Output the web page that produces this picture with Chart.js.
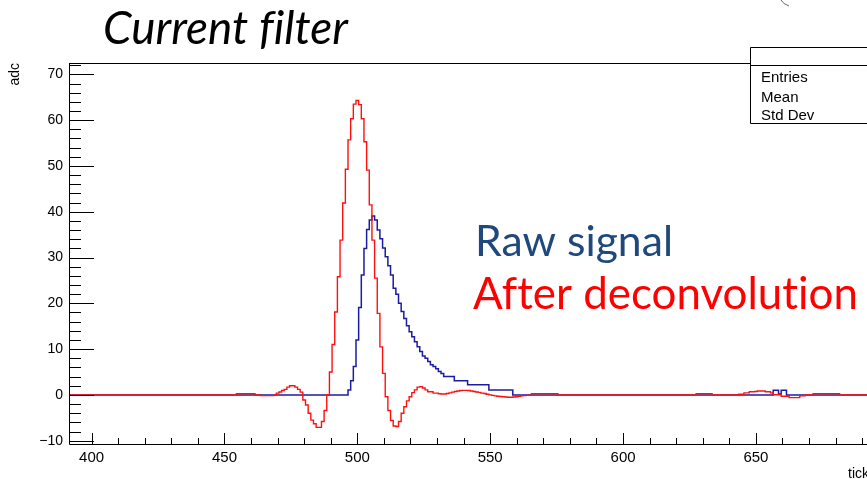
<!DOCTYPE html>
<html>
<head>
<meta charset="utf-8">
<script src="https://cdn.jsdelivr.net/npm/chart.js@4.4.1/dist/chart.umd.min.js"></script>
<style>
  html, body { margin: 0; padding: 0; background: #ffffff; overflow: hidden; }
  #wrap { width: 867px; height: 479px; position: relative; }
  canvas { display: block; }
</style>
</head>
<body>
<div id="wrap"><canvas id="c" width="867" height="479"></canvas></div>
<script>
// ---------------- data ----------------
const titleText = "Current filter";
const rawLabel = "Raw signal";
const deconvLabel = "After deconvolution";
const xAxisTitle = "tick";
const yAxisTitle = "adc";
const statsRows = ["Entries", "Mean", "Std Dev"];

// x tick labels / y tick labels
const xTickValues = [400, 450, 500, 550, 600, 650];
const yTickValues = [-10, 0, 10, 20, 30, 40, 50, 60, 70];

// Raw signal (blue): bin centres and adc values
const rawTicks = [391.5, 496,
  497, 498, 499, 500, 501, 502, 503, 504, 505, 506,
  507, 508, 509, 510, 511, 512, 513, 514, 515, 516,
  517, 518, 519, 520, 521, 522, 523, 524, 525, 526,
  527, 528, 529, 530, 531, 532, 533, 534, 535, 536,
  537, 538, 539, 540, 541,
  542, 543, 544, 545, 546, 547, 548, 549,
  550, 551, 552, 553, 554, 555, 556, 557, 558,
  559,
  656, 657, 658, 659, 660, 661, 662, 692];
const rawAdc = [0, 0,
  1.1, 3.1, 6.2, 12.0, 19.1, 26.2, 32.0, 36.1, 38.2, 39.1,
  38.2, 36.0, 34.1, 32.1, 30.2, 28.2, 26.2, 23.3, 22.0, 20.0,
  18.2, 16.7, 15.1, 13.8, 12.7, 11.6, 10.5, 9.5, 8.5, 8.0,
  7.3, 6.6, 6.2, 5.7, 5.1, 4.7, 4.0, 4.0, 4.0, 4.0,
  3.1, 3.1, 3.1, 3.1, 3.1,
  2.2, 2.2, 2.2, 2.2, 2.2, 2.2, 2.2, 2.2,
  1.1, 1.1, 1.1, 1.1, 1.1, 1.1, 1.1, 1.1, 1.1,
  0,
  0, 1.0, 1.0, 0.2, 1.0, 1.0, 0, 0];

// After deconvolution (red): bin centres and adc values
const deconvTicks = [391.5, 454,
  455, 456, 457, 458, 459, 460, 461, 462, 463,
  464, 465, 466, 467, 468, 469,
  470, 471, 472, 473, 474, 475, 476, 477, 478, 479,
  480, 481, 482, 483, 484, 485, 486, 487, 488, 489,
  490, 491, 492, 493, 494, 495, 496, 497, 498, 499,
  500, 501, 502, 503, 504, 505, 506, 507, 508, 509,
  510, 511, 512, 513, 514, 515, 516, 517, 518, 519,
  520, 521, 522, 523, 524, 525, 526, 527, 528, 529,
  530, 531, 532, 533, 534, 535, 536, 537, 538, 539,
  540, 541, 542, 543, 544, 545, 546, 547, 548, 549,
  550, 551, 552, 553, 554, 555, 556, 557, 558, 559,
  560, 561, 562, 563, 564, 565,
  566, 567, 568, 569, 570, 571, 572, 573, 574, 575, 576,
  627, 628, 629, 630, 631, 632, 633, 634,
  643, 644, 645, 646, 647, 648, 649, 650, 651, 652, 653,
  654, 655, 656, 657, 658, 659, 660, 661, 662, 663,
  664, 665, 666, 667, 668, 669,
  671, 672, 673, 674, 675, 676, 677, 678, 679, 680, 681, 682, 692];
const deconvAdc = [0, 0,
  0.25, 0.25, 0.25, 0.25, 0.25, 0.25, 0.25, 0, 0,
  -0.15, -0.15, -0.15, -0.15, -0.15, 0,
  0.4, 0.65, 0.95, 1.2, 1.7, 2.0, 2.0, 1.7, 1.2, 0.6,
  -1.1, -2.2, -4.0, -5.5, -6.3, -7.1, -7.1, -5.8, -3.4, 0.0,
  5.0, 11.0, 18.1, 25.8, 33.8, 41.9, 49.3, 55.7, 60.3, 63.5,
  64.3, 63.4, 60.3, 55.3, 49.1, 41.5, 33.8, 25.5, 17.8, 10.5,
  4.7, -0.4, -3.4, -5.6, -6.8, -6.9, -5.8, -4.0, -2.6, -1.3,
  -0.4, 0.5, 1.1, 1.7, 1.8, 1.5, 1.1, 0.7, 0.7, 0.4,
  0.4, 0.25, 0.2, 0.2, 0.3, 0.45, 0.6, 0.75, 0.85, 0.95,
  1.0, 1.0, 0.95, 0.85, 0.75, 0.65, 0.55, 0.4, 0.3, 0.15,
  0.0, -0.1, -0.2, -0.3, -0.35, -0.4, -0.45, -0.5, -0.5, -0.45,
  -0.4, -0.3, -0.2, -0.15, -0.1, -0.05,
  0.25, 0.25, 0.25, 0.25, 0.25, 0.25, 0.25, 0.25, 0.25, 0.25, 0,
  0, 0.25, 0.25, 0.25, 0.25, 0.25, 0.25, 0,
  0, 0.15, 0.15, 0.45, 0.45, 0.7, 0.7, 0.75, 0.85, 0.85, 0.85,
  0.7, 0.7, 0.45, 0.05, 0.05, 0.05, -0.3, -0.3, -0.3, -0.6,
  -0.6, -0.6, -0.6, -0.2, -0.2, 0,
  0, 0.25, 0.25, 0.25, 0.25, 0.25, 0.25, 0.25, 0.25, 0.25, 0.25, 0, 0];

// axis ranges
const xMin = 391.5, xMax = 691.8;
const yMin = -10.72, yMax = 72.27;

// ---------------- chart ----------------
const toPoints = (xs, ys) => xs.map((x, i) => ({ x: x, y: ys[i] }));

function fitFontSize(ctx, text, style, family, targetW) {
  ctx.font = style + " 100px " + family;
  const w = ctx.measureText(text).width;
  return 100 * targetW / w;
}

const rootFrame = {
  id: 'rootFrame',
  afterDraw(chart) {
    const ctx = chart.ctx;
    const { left, right, top, bottom } = chart.chartArea;
    const xs = chart.scales.x, ys = chart.scales.y;
    ctx.save();
    ctx.strokeStyle = '#000';
    ctx.lineWidth = 1;
    // frame (left, bottom, top)
    ctx.beginPath();
    ctx.moveTo(left + 0.5, top);
    ctx.lineTo(left + 0.5, bottom + 0.5);
    ctx.lineTo(right, bottom + 0.5);
    ctx.moveTo(left, top - 0.5);
    ctx.lineTo(right, top - 0.5);
    ctx.stroke();
    // y ticks (inside)
    ctx.beginPath();
    for (let v = -10; v <= yMax; v += 2) {
      const py = Math.round(ys.getPixelForValue(v)) + 0.5;
      const len = (v % 10 === 0) ? 25 : 12;
      ctx.moveTo(left, py);
      ctx.lineTo(left + len, py);
    }
    // x ticks (inside)
    for (let v = 400; v <= xMax; v += 10) {
      const px = Math.round(xs.getPixelForValue(v)) + 0.5;
      const len = (v % 50 === 0) ? 11 : 6;
      ctx.moveTo(px, bottom);
      ctx.lineTo(px, bottom - len);
    }
    ctx.stroke();

    // axis titles
    ctx.fillStyle = '#000';
    ctx.font = '14px "Liberation Sans", Arial, sans-serif';
    ctx.save();
    ctx.translate(19, 63);
    ctx.rotate(-Math.PI / 2);
    ctx.textAlign = 'right';
    ctx.textBaseline = 'alphabetic';
    ctx.fillText(yAxisTitle, 0, 0);
    ctx.restore();
    ctx.textAlign = 'left';
    ctx.textBaseline = 'alphabetic';
    ctx.fillText(xAxisTitle, 848, 478);

    // stats box
    ctx.fillStyle = '#fff';
    ctx.fillRect(750.5, 47.5, 130, 76);
    ctx.strokeStyle = '#000';
    ctx.beginPath();
    ctx.moveTo(900, 47.5); ctx.lineTo(750.5, 47.5); ctx.lineTo(750.5, 123.5); ctx.lineTo(900, 123.5);
    ctx.moveTo(750.5, 65.5); ctx.lineTo(900, 65.5);
    ctx.stroke();
    ctx.fillStyle = '#000';
    ctx.font = '15px "Liberation Sans", Arial, sans-serif';
    const rowBase = [82, 101.5, 120];
    statsRows.forEach((t, i) => ctx.fillText(t, 761, rowBase[i]));

    // slide texts (letter spacing breaks ligatures such as "ti")
    if ('letterSpacing' in ctx) ctx.letterSpacing = '0.01px';
    let s = fitFontSize(ctx, titleText, 'italic', 'Lato', 245);
    ctx.font = 'italic ' + s + 'px Lato';
    ctx.fillStyle = '#000';
    ctx.fillText(titleText, 103, 44);

    s = fitFontSize(ctx, rawLabel, 'normal', 'Lato', 198);
    ctx.font = s + 'px Lato';
    ctx.fillStyle = '#1F497D';
    ctx.fillText(rawLabel, 475, 256);

    s = fitFontSize(ctx, deconvLabel, 'normal', 'Lato', 385);
    ctx.font = s + 'px Lato';
    ctx.fillStyle = '#FF0000';
    ctx.fillText(deconvLabel, 473, 308.5);
    if ('letterSpacing' in ctx) ctx.letterSpacing = '0px';

    // small mark at the top right of the slide
    ctx.strokeStyle = '#666';
    ctx.lineWidth = 1;
    ctx.beginPath();
    ctx.moveTo(781, 0);
    ctx.quadraticCurveTo(783, 4, 789, 6);
    ctx.stroke();
    ctx.restore();
  }
};

const tickFont = { family: '"Liberation Sans", Arial, sans-serif', size: 14 };

new Chart(document.getElementById('c'), {
  type: 'line',
  data: {
    datasets: [
      {
        label: deconvLabel,
        data: toPoints(deconvTicks, deconvAdc),
        borderColor: '#ff1010',
        borderWidth: 1.4,
        stepped: 'middle',
        pointRadius: 0,
        fill: false,
        order: 0
      },
      {
        label: rawLabel,
        data: toPoints(rawTicks, rawAdc),
        borderColor: '#1c1ca2',
        borderWidth: 1.5,
        stepped: 'middle',
        pointRadius: 0,
        fill: false,
        order: 1
      }
    ]
  },
  options: {
    responsive: false,
    animation: false,
    devicePixelRatio: 1,
    layout: { padding: { top: 64, right: 0, left: 0, bottom: 0 } },
    plugins: { legend: { display: false }, tooltip: { enabled: false }, title: { display: false } },
    scales: {
      x: {
        type: 'linear',
        min: xMin, max: xMax,
        grid: { display: false, drawTicks: false },
        border: { display: false },
        afterBuildTicks(scale) { scale.ticks = xTickValues.map(v => ({ value: v })); },
        ticks: {
          font: { family: tickFont.family, size: 15 },
          color: '#000',
          padding: 5,
          maxRotation: 0,
          autoSkip: false,
          includeBounds: false
        },
        afterFit(scale) { scale.height = 35; }
      },
      y: {
        type: 'linear',
        min: yMin, max: yMax,
        grid: { display: false, drawTicks: false },
        border: { display: false },
        afterBuildTicks(scale) { scale.ticks = yTickValues.map(v => ({ value: v })); },
        ticks: {
          font: tickFont,
          color: '#000',
          padding: 6,
          autoSkip: false,
          includeBounds: false,
          callback: (v) => (v < 0 ? '\u2212' + Math.abs(v) : String(v))
        },
        afterFit(scale) { scale.width = 69; }
      }
    }
  },
  plugins: [rootFrame]
});
</script>
</body>
</html>
